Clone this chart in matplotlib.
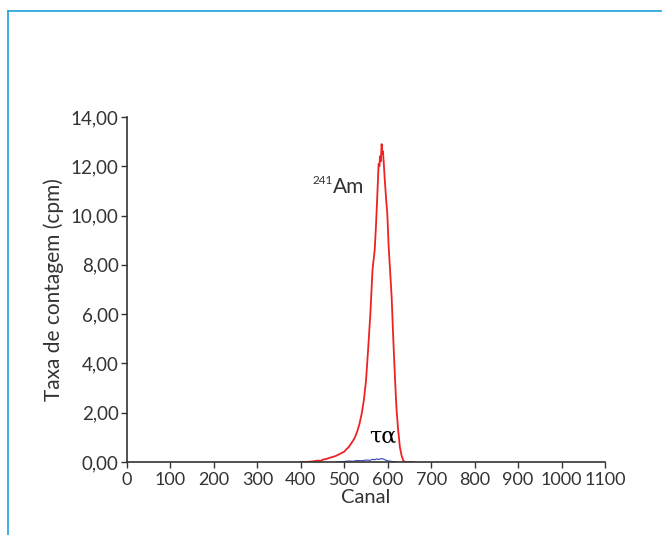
import matplotlib
matplotlib.use("Agg")
import matplotlib.pyplot as plt
from matplotlib.lines import Line2D

# Am-241 alpha spectrum
canal_am = [400, 420, 430, 440, 445, 450, 460, 470, 480, 490, 500, 505, 510,
            515, 520, 525, 530, 535, 540, 545, 550, 555, 560, 565, 570, 573,
            576, 579, 581, 582, 584, 586, 588, 589, 591, 593, 595, 597, 599,
            602, 605, 609, 613, 617, 620, 624, 628, 632, 636, 640, 660]
cpm_am = [0.0, 0.01, 0.03, 0.06, 0.04, 0.09, 0.13, 0.19, 0.24, 0.33, 0.42,
          0.52, 0.6, 0.73, 0.86, 1.02, 1.25, 1.55, 1.95, 2.5, 3.3, 4.6, 6.0,
          7.8, 8.6, 9.6, 10.8, 12.1, 12.0, 12.4, 12.2, 12.9, 12.5, 12.6, 12.1,
          11.5, 11.0, 10.5, 10.1, 8.8, 7.9, 6.7, 4.9, 3.3, 2.2, 1.3, 0.6, 0.25,
          0.05, 0.0, 0.0]

# background (tau-alpha) spectrum
canal_bg = [480, 500, 510, 520, 530, 540, 550, 560, 565, 570, 575, 580, 585,
            590, 595, 600, 610, 620]
cpm_bg = [0.0, 0.02, 0.04, 0.03, 0.06, 0.05, 0.08, 0.07, 0.11, 0.09, 0.13,
          0.1, 0.14, 0.12, 0.08, 0.05, 0.02, 0.0]

x_ticks = list(range(0, 1101, 100))
y_ticks = [0, 2, 4, 6, 8, 10, 12, 14]

txt = "#333333"
plt.rcParams["font.family"] = ["Lato", "DejaVu Sans"]

fig = plt.figure(figsize=(6.62, 5.35), dpi=100)
ax = fig.add_axes([127 / 662, 73 / 535, 478 / 662, 345 / 535])

ax.plot(canal_bg, cpm_bg, color="#3344bb", lw=0.8)
ax.plot(canal_am, cpm_am, color="#ee2222", lw=1.3)

ax.set_xlim(0, 1100)
ax.set_ylim(0, 14)
ax.set_xticks(x_ticks)
ax.set_xticklabels([str(t) for t in x_ticks])
ax.set_yticks(y_ticks)
ax.set_yticklabels([f"{t:.2f}".replace(".", ",") for t in y_ticks])

for side in ["top", "right"]:
    ax.spines[side].set_visible(False)
for side in ["left", "bottom"]:
    ax.spines[side].set_color(txt)
    ax.spines[side].set_linewidth(1.2)
ax.tick_params(direction="out", length=4, width=1, color=txt,
               labelcolor=txt, labelsize=13.5)
ax.tick_params(axis="x", pad=3, labelsize=13)
ax.tick_params(axis="y", pad=2)

ax.set_xlabel("Canal", fontsize=14.5, color=txt, labelpad=1)
ax.set_ylabel("Taxa de contagem (cpm)", fontsize=15, color=txt, labelpad=5)

ax.text(473, 11.28, "241", fontsize=8.5, color=txt, ha="right",
        va="baseline")
ax.text(474, 10.92, "Am", fontsize=15, color=txt, ha="left", va="baseline")
ax.text(557, 0.77, "τα", fontsize=16, color="black", va="baseline",
        family="DejaVu Serif")

# light blue frame (left and top)
fig.add_artist(Line2D([7.5 / 662, 7.5 / 662], [0, 1 - 11 / 535],
                      transform=fig.transFigure, color="#1ba1dd", lw=1.2))
fig.add_artist(Line2D([7.5 / 662, 1], [1 - 11 / 535, 1 - 11 / 535],
                      transform=fig.transFigure, color="#1ba1dd", lw=1.2))

fig.savefig("out.png", dpi=100)
